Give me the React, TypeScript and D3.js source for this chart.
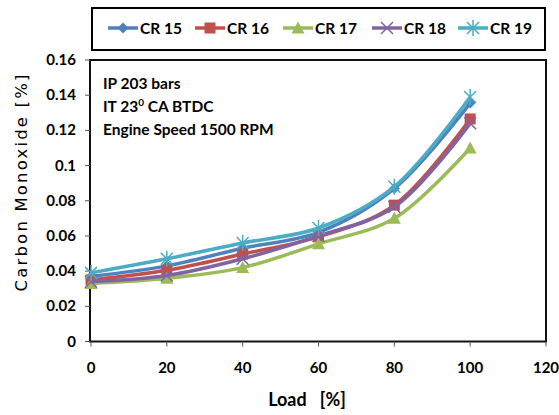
import React from 'react';
import * as d3 from 'd3';

const loads = [0, 20, 40, 60, 80, 100];
const seriesNames = ['CR 15', 'CR 16', 'CR 17', 'CR 18', 'CR 19'];
const cr15 = [0.037, 0.043, 0.053, 0.062, 0.087, 0.1355];
const cr16 = [0.035, 0.0405, 0.0497, 0.0595, 0.0775, 0.1265];
const cr17 = [0.033, 0.036, 0.042, 0.0555, 0.070, 0.110];
const cr18 = [0.034, 0.0375, 0.047, 0.060, 0.0765, 0.124];
const cr19 = [0.039, 0.047, 0.056, 0.0645, 0.088, 0.139];
const xTicks = [0, 20, 40, 60, 80, 100, 120];
const yTicks = [0, 0.02, 0.04, 0.06, 0.08, 0.1, 0.12, 0.14, 0.16];
const colors = ['#4F81BD', '#C0504D', '#9BBB59', '#8064A2', '#4BACC6'];
const markers = ['diamond', 'square', 'triangle', 'x', 'star'];
const allSeries = [cr15, cr16, cr17, cr18, cr19];

const W = 559, H = 415;
const L = 91, R = 546, T = 60, B = 341.5;

function Marker({ kind, x, y, color }: { kind: string; x: number; y: number; color: string }) {
  const s = 5.5;
  if (kind === 'diamond') return <path d={`M${x},${y - s}L${x + s},${y}L${x},${y + s}L${x - s},${y}Z`} fill={color} />;
  if (kind === 'square') return <rect x={x - 5.5} y={y - 5.5} width={11} height={11} fill={color} />;
  if (kind === 'triangle') return <path d={`M${x},${y - 6.5}L${x + 6.5},${y + 5.5}L${x - 6.5},${y + 5.5}Z`} fill={color} />;
  if (kind === 'x') return <path d={`M${x - 6},${y - 6}L${x + 6},${y + 6}M${x - 6},${y + 6}L${x + 6},${y - 6}`} stroke={color} strokeWidth={1.5} />;
  return <path d={`M${x - 6},${y - 6}L${x + 6},${y + 6}M${x - 6},${y + 6}L${x + 6},${y - 6}M${x},${y - 8}L${x},${y + 8}`} stroke={color} strokeWidth={1.5} />;
}

export default function App() {
  const x = d3.scaleLinear().domain([0, 120]).range([L, R]);
  const y = d3.scaleLinear().domain([0, 0.16]).range([B, T]);
  const line = d3.line<number>().x((_, i) => x(loads[i])).y(d => y(d)).curve(d3.curveCatmullRom.alpha(0.5));
  const legendStarts = [108, 195, 283, 372, 458];
  const boldFont = 'Lato, "Open Sans", sans-serif';
  return (
    <svg width={W} height={H} style={{ position: 'absolute', left: 0, top: 0, background: '#fff' }}>
      <rect x={0} y={0} width={W} height={H} fill="#fff" />
      {/* legend box */}
      <rect x={92} y={8} width={453} height={42} fill="#fff" stroke="#000" strokeWidth={2} />
      {seriesNames.map((n, i) => (
        <g key={n}>
          <line x1={legendStarts[i]} x2={legendStarts[i] + 30} y1={28} y2={28} stroke={colors[i]} strokeWidth={3.5} />
          <Marker kind={markers[i]} x={legendStarts[i] + 15} y={28} color={colors[i]} />
          <text x={legendStarts[i] + 32} y={34} fontFamily={boldFont} fontWeight="bold" fontSize={15.5} fill="#000">{n}</text>
        </g>
      ))}
      {/* plot frame */}
      <rect x={L - 1} y={T} width={R - L + 1} height={B - T} fill="none" stroke="#111" strokeWidth={2} />
      {/* y ticks */}
      {yTicks.map(t => (
        <g key={t}>
          <line x1={L - 6} x2={L - 1} y1={y(t)} y2={y(t)} stroke="#555" strokeWidth={1} />
          <text x={76} y={y(t) + 5} textAnchor="end" fontFamily={boldFont} fontWeight="bold" fontSize={15} fill="#000">{String(t)}</text>
        </g>
      ))}
      {xTicks.map(t => (
        <g key={t}>
          <line x1={x(t)} x2={x(t)} y1={B} y2={B + 5} stroke="#555" strokeWidth={1} />
          <text x={x(t)} y={373} textAnchor="middle" fontFamily={boldFont} fontWeight="bold" fontSize={15} fill="#000">{String(t)}</text>
        </g>
      ))}
      <text x={307} y={406} textAnchor="middle" fontFamily={boldFont} fontWeight="bold" fontSize={18} fill="#000" xmlSpace="preserve">{'Load   [%]'}</text>
      <text transform="translate(27,183) rotate(-90)" textAnchor="middle" fontFamily='"DejaVu Sans", Verdana, sans-serif' fontSize={16.5} fill="#000" textLength={217} lengthAdjust="spacing">Carbon Monoxide [%]</text>
      {/* annotation */}
      <g fontFamily={boldFont} fontWeight="bold" fontSize={15.5} fill="#000">
        <text x={103} y={89}>IP 203 bars</text>
        <text x={103} y={112}>IT 23<tspan dy={-6} fontSize={10}>0</tspan><tspan dy={6}> CA BTDC</tspan></text>
        <text x={103} y={135}>Engine Speed 1500 RPM</text>
      </g>
      {/* series */}
      {allSeries.map((s, i) => (
        <g key={i}>
          <path d={line(s) || ''} fill="none" stroke={colors[i]} strokeWidth={3.5} />
          {s.map((v, j) => (
            <Marker key={j} kind={markers[i]} x={x(loads[j])} y={y(v)} color={colors[i]} />
          ))}
        </g>
      ))}
    </svg>
  );
}
